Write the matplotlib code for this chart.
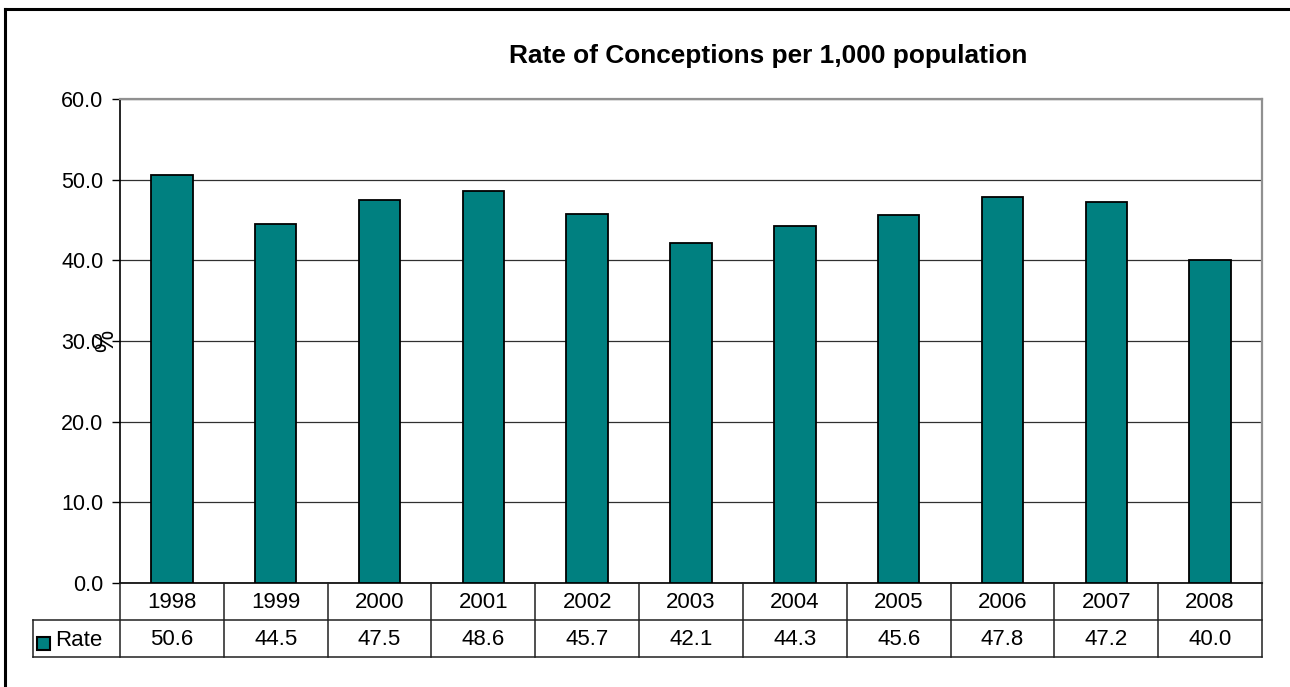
import matplotlib
matplotlib.use("Agg")
import matplotlib.pyplot as plt
from matplotlib.patches import Rectangle
from matplotlib.lines import Line2D
import matplotlib.transforms as mtransforms

plt.rcParams['font.family'] = ['Liberation Sans', 'DejaVu Sans']

years = ['1998', '1999', '2000', '2001', '2002', '2003', '2004', '2005', '2006', '2007', '2008']
rate = [50.6, 44.5, 47.5, 48.6, 45.7, 42.1, 44.3, 45.6, 47.8, 47.2, 40.0]
yticks = [0, 10, 20, 30, 40, 50, 60]
series_name = 'Rate'
title = 'Rate of Conceptions per 1,000 population'
ylabel = '%'

W, H = 1290, 687
fig = plt.figure(figsize=(W / 100, H / 100), dpi=100)

def fx(px):
    return px / W

def fy(py):
    return 1 - py / H

# outer chart border (only top/left visible)
fig.add_artist(Line2D([fx(5), fx(5)], [fy(9), fy(700)], color='black', lw=2.2, transform=fig.transFigure))
fig.add_artist(Line2D([fx(5), fx(1300)], [fy(9), fy(9)], color='black', lw=2.2, transform=fig.transFigure))

left, right, top, bottom = 120, 1262, 99, 583
ax = fig.add_axes([fx(left), fy(bottom), fx(right - left), (bottom - top) / H])

x = list(range(len(years)))
ax.bar(x, rate, width=0.4, color='#008080', edgecolor='black', linewidth=1.3, zorder=3)
ax.set_xlim(-0.5, len(years) - 0.5)
ax.set_ylim(0, 60)
ax.set_yticks(yticks)
ax.set_yticklabels([f'{v:.1f}' for v in yticks], fontsize=15.5)
ax.set_xticks([])
ax.grid(axis='y', color='#303030', lw=0.9, zorder=0)
ax.tick_params(axis='y', length=6, width=1, color='black', pad=6, direction='out')
ax.spines['left'].set_color('black')
ax.spines['left'].set_linewidth(1.2)
ax.spines['bottom'].set_color('black')
ax.spines['bottom'].set_linewidth(1.2)
ax.spines['top'].set_color('#909090')
ax.spines['top'].set_linewidth(1.6)
ax.spines['right'].set_color('#909090')
ax.spines['right'].set_linewidth(1.6)

fig.text(fx(768), fy(56), title, ha='center', va='center', fontsize=18.9, fontweight='bold')
fig.text(fx(106), fy(341), ylabel, ha='center', va='center', fontsize=18, rotation=90)

# data table
row1_top, row1_bot, row2_bot = 583, 620, 657
tab_left = 33
col_w = (right - left) / len(years)
lc = dict(color='#202020', lw=1.1, transform=fig.transFigure)
fig.add_artist(Line2D([fx(tab_left), fx(right)], [fy(row1_bot), fy(row1_bot)], **lc))
fig.add_artist(Line2D([fx(tab_left), fx(right)], [fy(row2_bot), fy(row2_bot)], **lc))
fig.add_artist(Line2D([fx(tab_left), fx(tab_left)], [fy(row1_bot), fy(row2_bot)], **lc))
for i in range(len(years) + 1):
    xp = left + i * col_w
    fig.add_artist(Line2D([fx(xp), fx(xp)], [fy(row1_top), fy(row2_bot)], **lc))

trans = mtransforms.blended_transform_factory(ax.transData, fig.transFigure)
for i, (yr, v) in enumerate(zip(years, rate)):
    fig.text(i, fy((row1_top + row1_bot) / 2 + 1), yr, transform=trans, ha='center', va='center', fontsize=16)
    fig.text(i, fy((row1_bot + row2_bot) / 2 + 1), f'{v:.1f}', transform=trans, ha='center', va='center', fontsize=16)

# legend key in table
fig.add_artist(Rectangle((fx(37), fy(650)), fx(13), 13 / H, facecolor='#008080',
                         edgecolor='black', lw=1.5, transform=fig.transFigure))
fig.text(fx(55), fy(640), series_name, ha='left', va='center', fontsize=16)

fig.savefig('out.png', dpi=100)
